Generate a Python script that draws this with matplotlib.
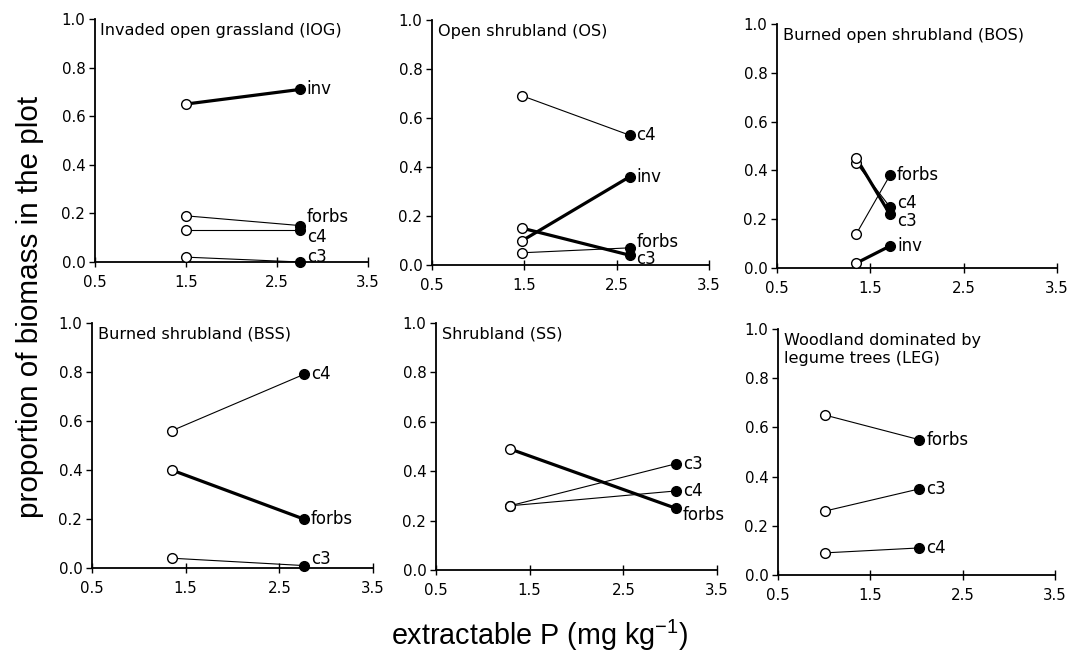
import matplotlib
matplotlib.use("Agg")
import matplotlib.pyplot as plt

# habitat panels
titles = ["Invaded open grassland (IOG)", "Open shrubland (OS)", "Burned open shrubland (BOS)",
          "Burned shrubland (BSS)", "Shrubland (SS)", "Woodland dominated by\nlegume trees (LEG)"]

# extractable P before (open) and after (closed)
p_open = [1.50, 1.48, 1.35, 1.35, 1.29, 1.01]
p_closed = [2.75, 2.64, 1.71, 2.76, 3.06, 2.03]

groups = [["inv", "forbs", "c4", "c3"],
          ["c4", "inv", "forbs", "c3"],
          ["forbs", "c4", "c3", "inv"],
          ["c4", "forbs", "c3"],
          ["c3", "c4", "forbs"],
          ["forbs", "c3", "c4"]]

biomass_open = [[0.65, 0.19, 0.13, 0.02],
                [0.69, 0.10, 0.05, 0.15],
                [0.14, 0.43, 0.45, 0.02],
                [0.56, 0.40, 0.04],
                [0.26, 0.26, 0.49],
                [0.65, 0.26, 0.09]]

biomass_closed = [[0.71, 0.15, 0.13, 0.00],
                  [0.53, 0.36, 0.07, 0.04],
                  [0.38, 0.25, 0.22, 0.09],
                  [0.79, 0.20, 0.01],
                  [0.43, 0.32, 0.25],
                  [0.55, 0.35, 0.11]]

# groups drawn with the heavy line
heavy = [["inv"], ["inv", "c3"], ["c3", "inv"], ["forbs"], ["forbs"], []]

# vertical nudge of the end labels (points), to keep them apart
nudge = [{"forbs": 6, "c4": -4.5, "c3": 3.5},
         {"forbs": 4, "c3": -3},
         {"c4": 3, "c3": -5},
         {"c3": 5},
         {"forbs": -5},
         {}]

# axes boxes in pixels: x0, x1, ytop, ybottom
boxes = [(95, 368, 19, 262), (432, 709, 20, 265), (777, 1057, 24, 268),
         (92, 373, 323, 568), (436, 717, 323, 570), (778, 1055, 329, 575)]

W, H = 1073, 658
fig = plt.figure(figsize=(W / 100, H / 100), dpi=100)
plt.rcParams['font.family'] = ['DejaVu Sans']

for k in range(6):
    x0, x1, yt, yb = boxes[k]
    ax = fig.add_axes([x0 / W, 1 - yb / H, (x1 - x0) / W, (yb - yt) / H])
    for g, y0, y1 in zip(groups[k], biomass_open[k], biomass_closed[k]):
        lw = 2.3 if g in heavy[k] else 0.8
        ax.plot([p_open[k], p_closed[k]], [y0, y1], color='black', lw=lw, zorder=2)
    for g, y0, y1 in zip(groups[k], biomass_open[k], biomass_closed[k]):
        ax.plot(p_open[k], y0, 'o', ms=7, mfc='white', mec='black', mew=1.0, zorder=3, clip_on=False)
        ax.plot(p_closed[k], y1, 'o', ms=7, mfc='black', mec='black', zorder=3, clip_on=False)
        ax.annotate(g, (p_closed[k], y1), xytext=(5, nudge[k].get(g, 0)), textcoords='offset points',
                    ha='left', va='center', fontsize=12)
    ax.text(0.02, 0.985, titles[k], transform=ax.transAxes, ha='left', va='top', fontsize=11.6,
            linespacing=1.25)
    ax.set_xlim(0.5, 3.5)
    ax.set_ylim(0, 1.0)
    ax.set_xticks([0.5, 1.5, 2.5, 3.5])
    ax.set_yticks([0, 0.2, 0.4, 0.6, 0.8, 1.0])
    ax.set_yticklabels([f"{v:.1f}" for v in ax.get_yticks()])
    ax.set_xticklabels(["0.5", "1.5", "2.5", "3.5"])
    ax.spines['top'].set_visible(False)
    ax.spines['right'].set_visible(False)
    ax.spines['left'].set_linewidth(1.3)
    ax.spines['bottom'].set_linewidth(1.3)
    ax.tick_params(axis='x', direction='inout', length=7, width=1.0, labelsize=10.8, pad=6)
    ax.tick_params(axis='y', direction='out', length=4, width=1.0, labelsize=10.8, pad=3)

fig.text(30 / W, 1 - 307 / H, "proportion of biomass in the plot", rotation=90, ha='center', va='center',
         fontsize=21.3, family='Liberation Sans')
fig.text(540 / W, 1 - 635 / H, r"extractable P (mg kg$^{\mathregular{-1}}$)", ha='center', va='center',
         fontsize=20.7, family='Liberation Sans')

fig.savefig("out.png", dpi=100, facecolor='white')
